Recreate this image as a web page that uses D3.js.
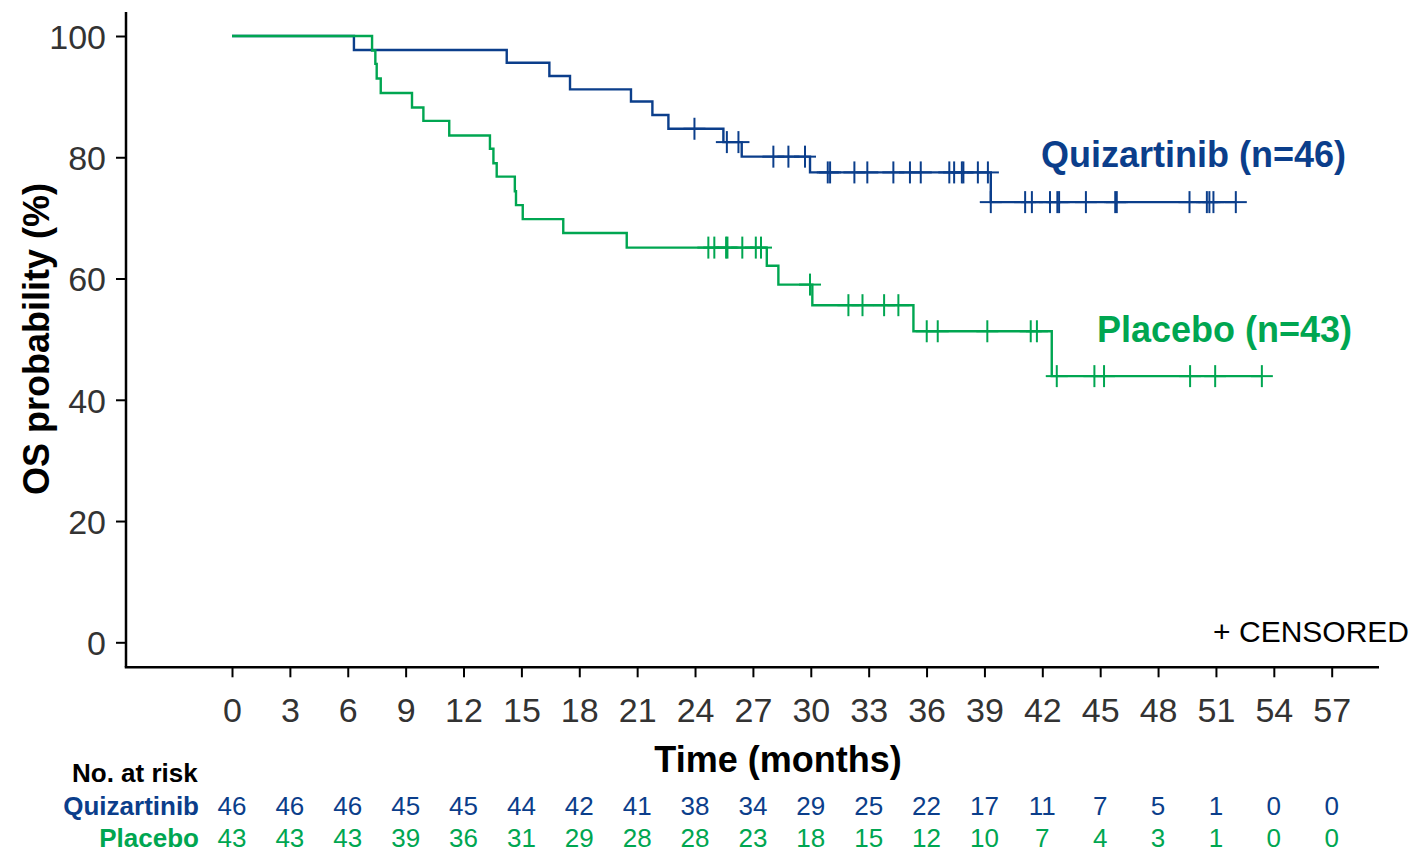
<!DOCTYPE html>
<html>
<head>
<meta charset="utf-8">
<script src="https://cdn.jsdelivr.net/npm/d3@7"></script>
<style>
  body { margin: 0; background: #fff; }
  svg { display: block; font-family: "Liberation Sans", Arial, sans-serif; }
</style>
</head>
<body>
<div id="chart"></div>
<script>
// months where each step drops, and the OS % after that drop
const quizTimes = [6.32, 14.24, 16.45, 17.52, 20.68, 21.79, 22.62, 25.47, 26.42, 29.96, 39.33];
const quizSurv = [97.7, 95.6, 93.4, 91.2, 89.2, 86.96, 84.7, 82.5, 80.1, 77.5, 72.6];
const quizCensor = [23.97, 25.65, 26.25, 28.06, 28.84, 29.7, 30.88, 31.0, 32.26, 32.93, 34.28, 35.14, 35.7,
    37.18, 37.43, 37.83, 37.91, 38.66, 39.18, 39.33, 41.11, 41.46, 42.4, 42.78, 42.87, 44.26, 45.78, 45.86,
    49.63, 50.53, 50.66, 50.87, 52.03];

const placTimes = [7.26, 7.43, 7.5, 7.71, 9.33, 9.92, 11.26, 13.37, 13.55, 13.72, 14.66, 14.72, 15.07, 17.17,
    20.46, 27.72, 28.32, 30.08, 35.32, 42.49];
const placSurv = [97.6, 95.4, 93.0, 90.6, 88.2, 86.0, 83.6, 81.4, 79.0, 76.8, 74.4, 72.1, 69.8, 67.5,
    65.1, 62.1, 59.0, 55.6, 51.3, 43.9];
const placCensor = [24.69, 25.0, 25.61, 25.68, 26.45, 27.15, 27.42, 29.96, 31.95, 32.68, 33.8, 34.54, 36.01,
    36.58, 39.15, 41.4, 41.72, 42.75, 44.7, 45.2, 49.66, 50.96, 53.38];

const xTicks = [0, 3, 6, 9, 12, 15, 18, 21, 24, 27, 30, 33, 36, 39, 42, 45, 48, 51, 54, 57];
const yTicks = [0, 20, 40, 60, 80, 100];

const quizAtRisk = [46, 46, 46, 45, 45, 44, 42, 41, 38, 34, 29, 25, 22, 17, 11, 7, 5, 1, 0, 0];
const placAtRisk = [43, 43, 43, 39, 36, 31, 29, 28, 28, 23, 18, 15, 12, 10, 7, 4, 3, 1, 0, 0];

const blue = "#0b3e8b";
const green = "#00a651";

const arms = [
    { name: "Quizartinib", label: "Quizartinib (n=46)", times: quizTimes, surv: quizSurv, censor: quizCensor,
      atRisk: quizAtRisk, color: blue, lx: 1346, ly: 167, ry: 815 },
    { name: "Placebo", label: "Placebo (n=43)", times: placTimes, surv: placSurv, censor: placCensor,
      atRisk: placAtRisk, color: green, lx: 1352, ly: 342, ry: 847 }
];

const W = 1414, H = 852;
const svg = d3.select("#chart").append("svg").attr("width", W).attr("height", H);

const x = d3.scaleLinear().domain([0, 57]).range([232, 1331.7]);
const y = d3.scaleLinear().domain([0, 100]).range([642.3, 36]);

const axisX = 126, axisY = 667.3;

// y axis
const gy = svg.append("g")
    .attr("transform", `translate(${axisX},0)`)
    .call(d3.axisLeft(y).tickValues(yTicks).tickSize(10).tickPadding(10));
gy.select(".domain").remove();
gy.selectAll(".tick line").attr("stroke", "#000").attr("stroke-width", 2);
gy.selectAll(".tick text").attr("fill", "#333").style("font-size", "34px")
    .style("font-family", "'Liberation Sans', Arial, sans-serif").attr("dy", "0.36em");

// x axis
const gx = svg.append("g")
    .attr("transform", `translate(0,${axisY})`)
    .call(d3.axisBottom(x).tickValues(xTicks).tickSize(10).tickPadding(21));
gx.select(".domain").remove();
gx.selectAll(".tick line").attr("stroke", "#000").attr("stroke-width", 2);
gx.selectAll(".tick text").attr("fill", "#333").style("font-size", "34px")
    .style("font-family", "'Liberation Sans', Arial, sans-serif");

// frame lines
svg.append("line").attr("x1", axisX).attr("x2", axisX).attr("y1", 12).attr("y2", axisY)
    .attr("stroke", "#000").attr("stroke-width", 2.5);
svg.append("line").attr("x1", axisX - 1.25).attr("x2", 1379).attr("y1", axisY).attr("y2", axisY)
    .attr("stroke", "#000").attr("stroke-width", 2.5);

// axis titles
svg.append("text")
    .attr("transform", "translate(49,339) rotate(-90)")
    .attr("text-anchor", "middle")
    .style("font-size", "36px").style("font-weight", "bold")
    .text("OS probability (%)");

svg.append("text")
    .attr("x", 778).attr("y", 772)
    .attr("text-anchor", "middle")
    .style("font-size", "36px").style("font-weight", "bold")
    .text("Time (months)");

const line = d3.line().x(d => x(d[0])).y(d => y(d[1])).curve(d3.curveStepAfter);

function survAt(arm, t) {
    let s = 100;
    arm.times.forEach((tt, i) => { if (tt <= t) s = arm.surv[i]; });
    return s;
}

arms.forEach(arm => {
    const end = d3.max(arm.censor);
    const pts = [[0, 100]].concat(arm.times.map((t, i) => [t, arm.surv[i]]));
    pts.push([end, arm.surv[arm.surv.length - 1]]);

    svg.append("path")
        .datum(pts)
        .attr("fill", "none")
        .attr("stroke", arm.color)
        .attr("stroke-width", 2.4)
        .attr("d", line);

    const g = svg.append("g").attr("stroke", arm.color).attr("stroke-width", 2);
    arm.censor.forEach(t => {
        const cx = x(t), cy = y(survAt(arm, t));
        g.append("line").attr("x1", cx).attr("x2", cx).attr("y1", cy - 11).attr("y2", cy + 11);
        g.append("line").attr("x1", cx - 11).attr("x2", cx + 11).attr("y1", cy).attr("y2", cy);
    });

    svg.append("text")
        .attr("x", arm.lx).attr("y", arm.ly)
        .attr("text-anchor", "end")
        .attr("fill", arm.color)
        .style("font-size", "36px").style("font-weight", "bold")
        .text(arm.label);

    // number at risk row
    svg.append("text")
        .attr("x", 199).attr("y", arm.ry)
        .attr("text-anchor", "end")
        .attr("fill", arm.color)
        .style("font-size", "26px").style("font-weight", "bold")
        .text(arm.name);

    svg.append("g").selectAll("text")
        .data(arm.atRisk)
        .enter()
        .append("text")
        .attr("x", (d, i) => x(xTicks[i]))
        .attr("y", arm.ry)
        .attr("text-anchor", "middle")
        .attr("fill", arm.color)
        .style("font-size", "26px")
        .text(d => d);
});

svg.append("text")
    .attr("x", 72).attr("y", 782)
    .style("font-size", "26px").style("font-weight", "bold")
    .text("No. at risk");

svg.append("text")
    .attr("x", 1409).attr("y", 642)
    .attr("text-anchor", "end")
    .style("font-size", "30px")
    .text("+ CENSORED");
</script>
</body>
</html>
